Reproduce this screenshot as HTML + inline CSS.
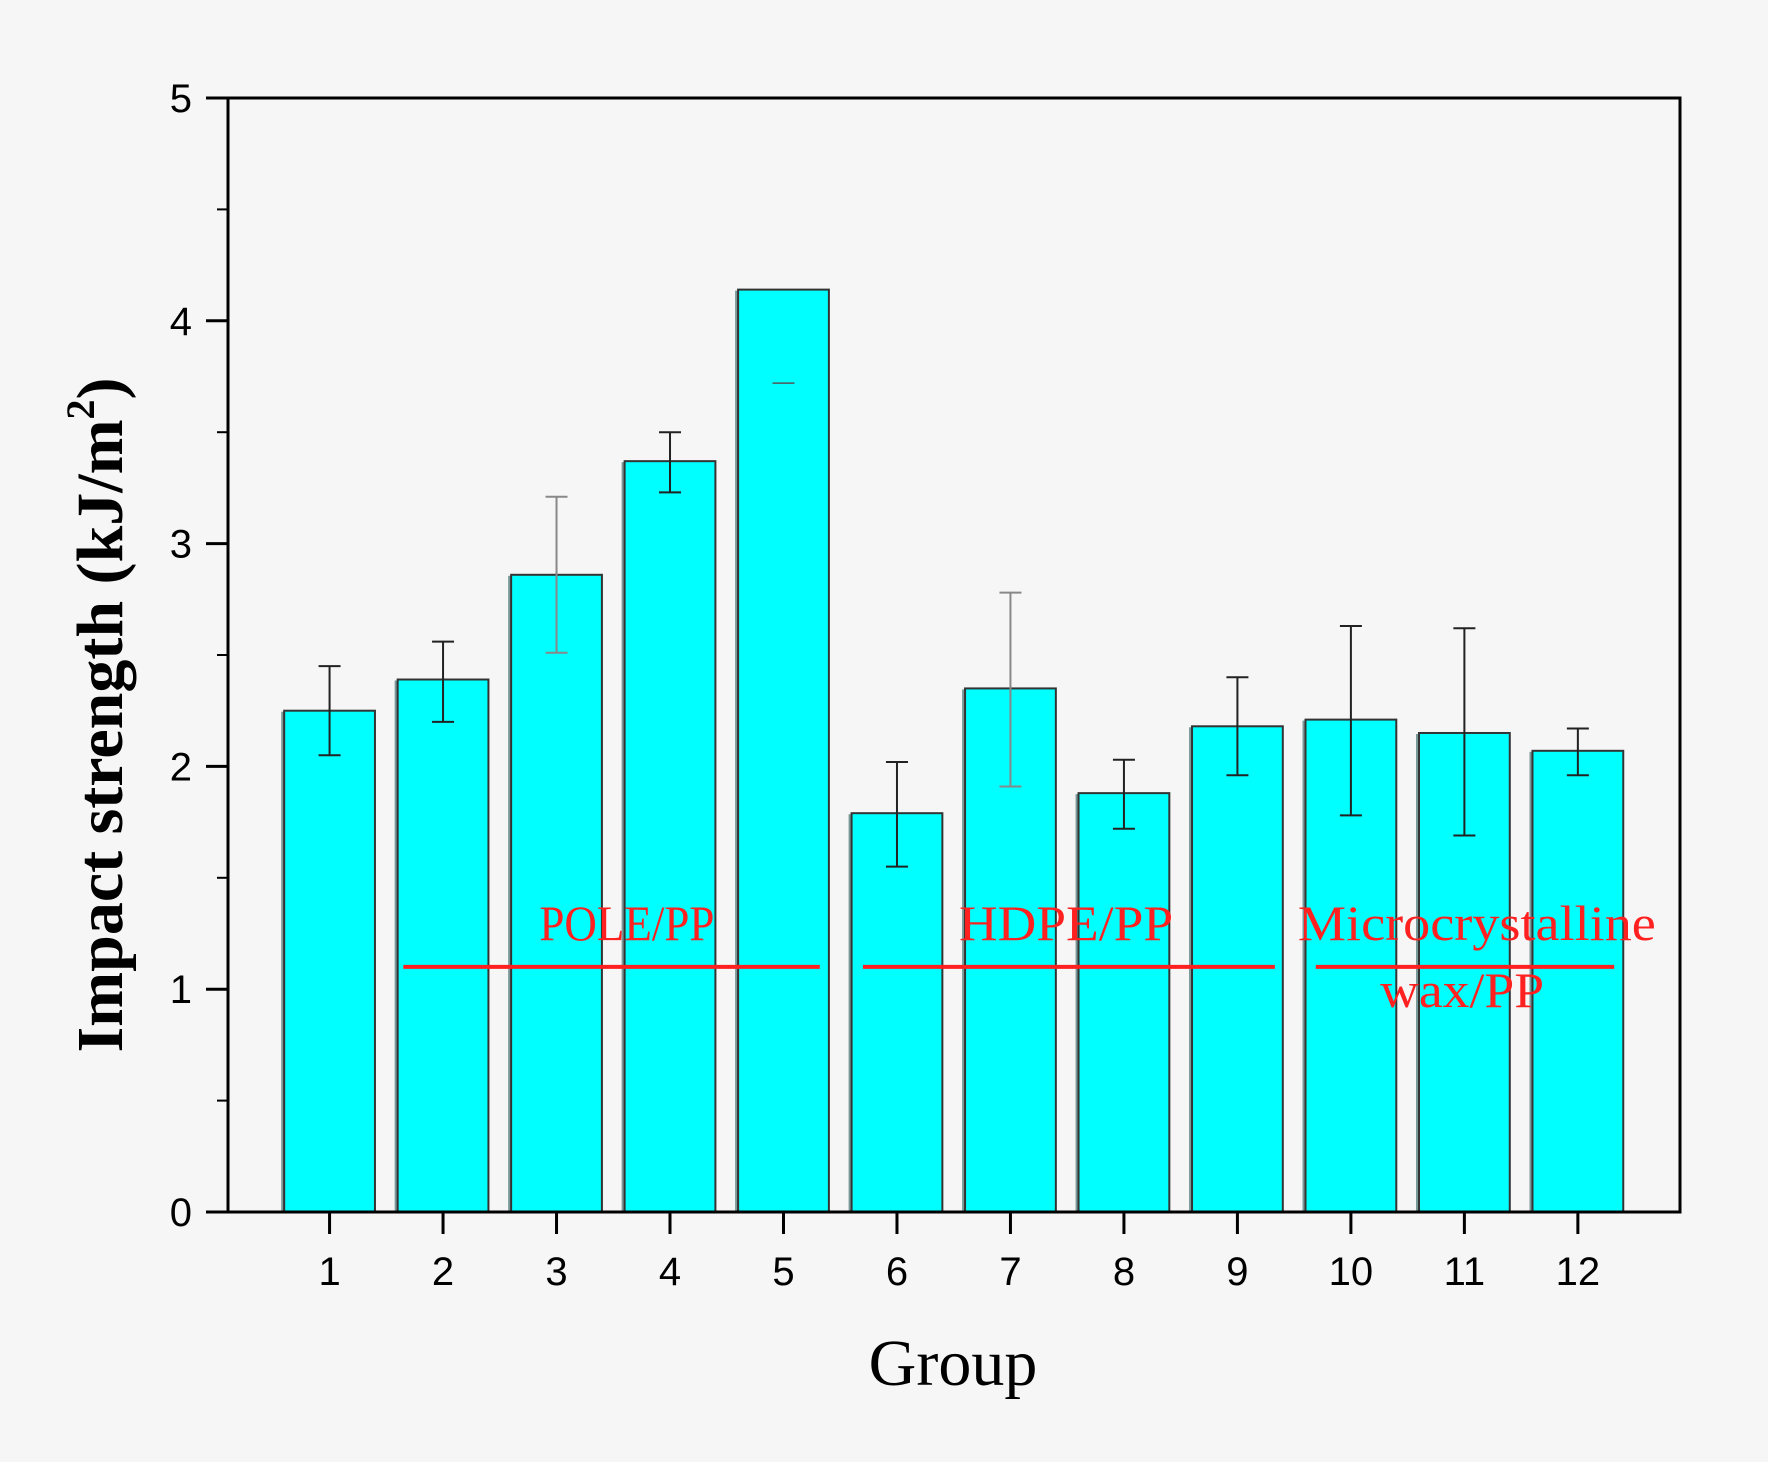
<!DOCTYPE html>
<html><head><meta charset="utf-8"><style>
body{margin:0;background:#f6f6f6;}
svg{display:block;}
</style></head><body>
<svg id="chart" width="1768" height="1462" xmlns="http://www.w3.org/2000/svg">
<rect x="0" y="0" width="1768" height="1462" fill="#f6f6f6"/>
<g id="plot"></g>
</svg>
<script>
const categories=[1,2,3,4,5,6,7,8,9,10,11,12];
const values=[2.25,2.39,2.86,3.37,4.14,1.79,2.35,1.88,2.18,2.21,2.15,2.07];
const errLow=[0.20,0.19,0.35,0.14,0.42,0.24,0.44,0.16,0.22,0.43,0.46,0.11];
const errHigh=[0.20,0.17,0.35,0.13,0,0.23,0.43,0.15,0.22,0.42,0.47,0.10];
const yTicks=[0,1,2,3,4,5];
const groups=[{label:"POLE/PP",from:1.65,to:5.32,lx:3.62,ly:1.22,len:175},{label:"HDPE/PP",from:5.7,to:9.33,lx:7.49,ly:1.22,len:214},{label:"Microcrystalline",from:9.69,to:12.32,lx:11.11,ly:1.22,len:358},{label:"wax/PP",from:null,to:null,lx:10.98,ly:0.92,len:164}];
const L=228,R=1680,T=98,B=1212;
const xMin=0.105,xMax=12.9,yMax=5;
const X=v=>L+(v-xMin)/(xMax-xMin)*(R-L);
const Y=v=>B-v/yMax*(B-T);
const NS="http://www.w3.org/2000/svg";
const g=document.getElementById('plot');
function mk(tag,a){const e=document.createElementNS(NS,tag);for(const k in a)e.setAttribute(k,a[k]);g.appendChild(e);return e;}
const bw=(X(1.8)-X(1));
categories.forEach((c,i)=>{
 const x=X(c)-bw/2,y=Y(values[i]);
 const s=mk('rect',{x:x-3,y:y+1,width:bw,height:B-y-1,fill:'#7a9a9a'});
 
 
 const r=mk('rect',{x:x,y:y,width:bw,height:B-y,fill:'#00ffff',stroke:'#333','stroke-width':2});
 
 
 const cx=X(c),lo=values[i]-errLow[i],hi=values[i]+errHigh[i];
 const col=(c==7||c==3)?'#888':'#222';
 if(errHigh[i]>0){
  const e=mk('path',{d:`M${cx},${Y(lo)}V${Y(hi)}M${cx-11},${Y(hi)}h22M${cx-11},${Y(lo)}h22`,stroke:col,'stroke-width':2,fill:'none'});
  
  
 } else {
  const e=mk('path',{d:`M${cx-11},${Y(lo)}h22`,stroke:'#555','stroke-width':1.5,fill:'none'});
  
  
 }
 const t=mk('path',{d:`M${cx},${B}v22`,stroke:'#000','stroke-width':3});
 
 
 const lb=mk('text',{x:cx,y:B+73,'text-anchor':'middle','font-family':'Liberation Sans, sans-serif','font-size':40,fill:'#000'});
 lb.textContent=c;
 
 
});
for(let v=0;v<=yMax+0.001;v+=0.5){
 const major=Math.abs(v-Math.round(v))<0.01;
 const t=mk('path',{d:`M${L},${Y(v)}h${major?-22:-11}`,stroke:'#000','stroke-width':major?3:2});
 
 
}
yTicks.forEach(v=>{
 const lb=mk('text',{x:L-36,y:Y(v)+14,'text-anchor':'end','font-family':'Liberation Sans, sans-serif','font-size':40,fill:'#000'});
 lb.textContent=v;
 
 
});
const frame=mk('rect',{x:L,y:T,width:R-L,height:B-T,fill:'none',stroke:'#000','stroke-width':3});


groups.forEach(gr=>{
 if(gr.from!==null){
  const ln=mk('path',{d:`M${X(gr.from)},${Y(1.1)}H${X(gr.to)}`,stroke:'#ff2020','stroke-width':4});
  
  
 }
 const tx=mk('text',{x:X(gr.lx),y:Y(gr.ly),'text-anchor':'middle','font-family':'Liberation Serif, serif','font-size':50,fill:'#ff2020',textLength:gr.len,lengthAdjust:'spacingAndGlyphs'});
 tx.textContent=gr.label;
 
 
});
const xt=mk('text',{x:953,y:1385,'text-anchor':'middle','font-family':'Liberation Serif, serif','font-size':66,fill:'#000'});
xt.textContent='Group';


const yt=mk('text',{x:0,y:0,'text-anchor':'middle','font-family':'Liberation Serif, serif','font-size':66,'font-weight':'bold',fill:'#000',transform:'translate(122,715) rotate(-90)'});
yt.innerHTML='Impact strength (kJ/m<tspan dy="-28" font-size="40">2</tspan><tspan dy="28">)</tspan>';


</script>
</body></html>
